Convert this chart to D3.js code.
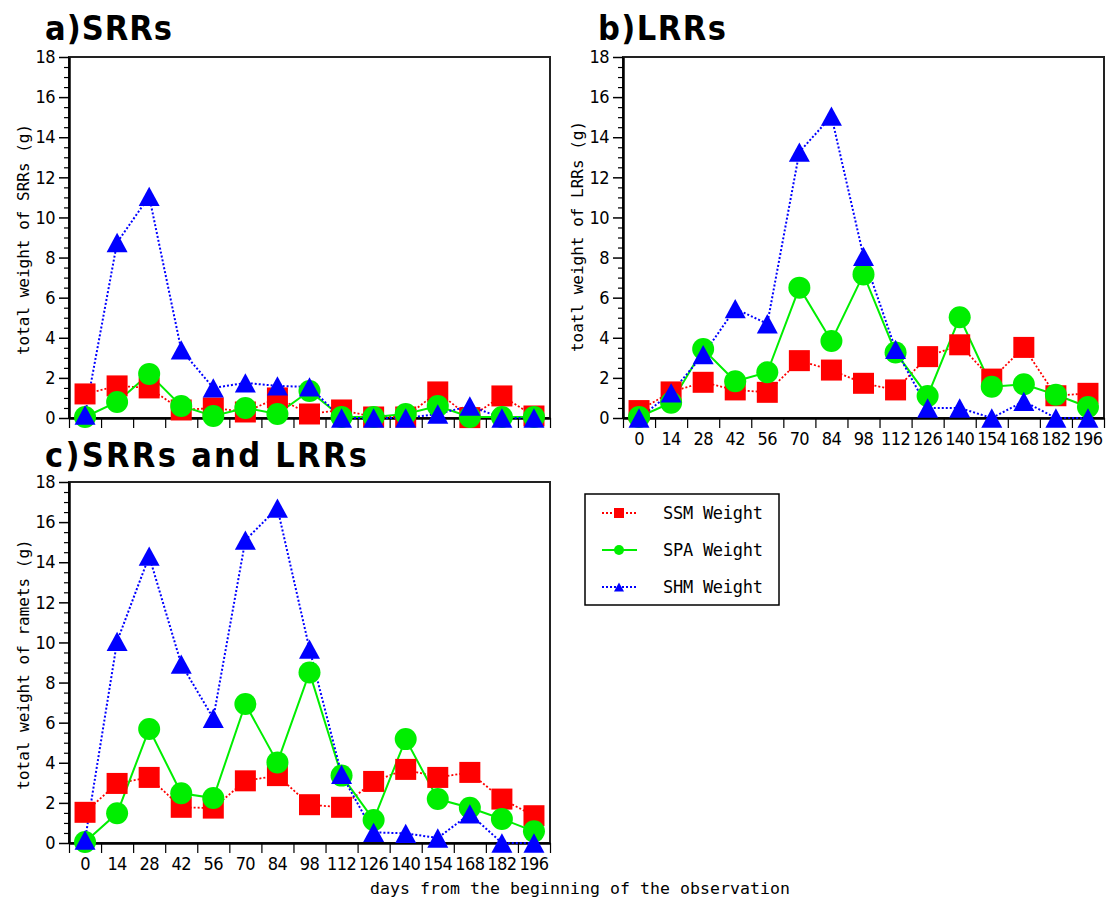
<!DOCTYPE html>
<html>
<head>
<meta charset="utf-8">
<script src="https://cdn.jsdelivr.net/npm/d3@7"></script>
<style>
  body { margin: 0; background: #fff; }
  .tick text { font-family: "Liberation Sans Narrow", "DejaVu Sans Condensed", "Liberation Sans", sans-serif; font-size: 18px; letter-spacing: -0.6px; fill: #000; }
  .mono { font-family: "DejaVu Sans Mono", monospace; fill: #000; }
  .title { font-family: "DejaVu Sans Condensed", "Liberation Sans Narrow", "DejaVu Sans", sans-serif; font-weight: bold; fill: #000; }
</style>
</head>
<body>
<svg width="1107" height="900"></svg>
<script>
var days = [0, 14, 28, 42, 56, 70, 84, 98, 112, 126, 140, 154, 168, 182, 196];
var yTicks = [0, 2, 4, 6, 8, 10, 12, 14, 16, 18];

// a) SRRs
var srrSSM = [1.2, 1.6, 1.5, 0.4, 0.5, 0.3, 1.0, 0.2, 0.4, 0.05, 0.05, 1.3, 0.02, 1.1, 0.1];
var srrSPA = [0.05, 0.8, 2.2, 0.6, 0.1, 0.5, 0.2, 1.35, 0.05, 0.05, 0.2, 0.6, 0.05, 0.05, 0.05];
var srrSHM = [0.15, 8.75, 11.05, 3.4, 1.5, 1.75, 1.6, 1.55, 0, 0, 0, 0.2, 0.6, 0, 0];

// b) LRRs
var lrrSSM = [0.37, 1.3, 1.78, 1.4, 1.28, 2.86, 2.39, 1.73, 1.4, 3.06, 3.65, 1.94, 3.52, 1.11, 1.23];
var lrrSPA = [0.05, 0.76, 3.44, 1.83, 2.28, 6.5, 3.84, 7.16, 3.27, 1.1, 5.02, 1.56, 1.68, 1.16, 0.55];
var lrrSHM = [0, 1.25, 3.16, 5.45, 4.7, 13.26, 15.05, 8.06, 3.42, 0.5, 0.5, 0, 0.83, 0, 0];

// c) SRRs and LRRs
var totSSM = [1.53, 2.97, 3.27, 1.78, 1.74, 3.1, 3.36, 1.91, 1.78, 3.07, 3.67, 3.27, 3.52, 2.19, 1.36];
var totSPA = [0.05, 1.48, 5.68, 2.48, 2.24, 6.93, 4.02, 8.5, 3.36, 1.15, 5.18, 2.19, 1.76, 1.2, 0.58];
var totSHM = [0.15, 10.05, 14.3, 8.92, 6.22, 15.1, 16.7, 9.67, 3.42, 0.53, 0.48, 0.25, 1.45, 0, 0];

var seriesNames = ["SSM Weight", "SPA Weight", "SHM Weight"];

var svg = d3.select("svg");
svg.append("rect").attr("width", 1107).attr("height", 900).attr("fill", "#fff");

var styles = [
  { color: "#ff0000", dash: "2,2", width: 1.8, marker: "square" },
  { color: "#00ee00", dash: null, width: 2, marker: "circle" },
  { color: "#0000ff", dash: "2,2", width: 2, marker: "triangle" }
];

function drawMarker(sel, type, s) {
  if (type == "square") {
    sel.append("rect").attr("x", -s).attr("y", -s).attr("width", 2 * s).attr("height", 2 * s);
  } else if (type == "circle") {
    sel.append("circle").attr("r", s);
  } else {
    sel.append("path").attr("d", "M0," + (-s * 0.92) + "L" + s + "," + (s * 0.92) + "L" + (-s) + "," + (s * 0.92) + "Z");
  }
}

function panel(opt) {
  var x = d3.scaleBand().domain(days).range([opt.left, opt.right]);
  var xEdge = d3.scaleLinear().domain([0, days.length]).range([opt.left, opt.right]);
  var y = d3.scaleLinear().domain([0, 18]).range([opt.bottom, opt.top]);

  var g = svg.append("g");

  g.append("rect")
    .attr("x", opt.left).attr("y", opt.top)
    .attr("width", opt.right - opt.left).attr("height", opt.bottom - opt.top)
    .attr("fill", "none").attr("stroke", "#222").attr("stroke-width", 2);

  // minor y ticks
  g.append("g")
    .attr("transform", "translate(" + opt.left + ",0)")
    .call(d3.axisLeft(y).tickValues(d3.range(0, 18.01, 0.5).filter(function (v) { return v % 2 != 0; }))
      .tickSize(5).tickSizeOuter(0).tickFormat(""))
    .call(function (a) { a.select(".domain").remove(); a.selectAll("line").attr("stroke-width", 1.2); });

  // major y ticks
  g.append("g")
    .attr("transform", "translate(" + opt.left + ",0)")
    .call(d3.axisLeft(y).tickValues(yTicks).tickSize(10).tickSizeOuter(0).tickPadding(4))
    .call(function (a) {
      a.select(".domain").attr("stroke-width", 2.5);
      a.selectAll("line").attr("stroke-width", 1.5);
    });

  // x ticks at band edges
  g.append("g")
    .attr("transform", "translate(0," + opt.bottom + ")")
    .call(d3.axisBottom(xEdge).tickValues(d3.range(0, days.length + 1)).tickSize(10).tickSizeOuter(0).tickFormat(""))
    .call(function (a) {
      a.select(".domain").attr("stroke-width", 2.5);
      a.selectAll("line").attr("stroke-width", 1.2);
    });

  if (opt.labels) {
    g.append("g")
      .attr("transform", "translate(0," + opt.bottom + ")")
      .call(d3.axisBottom(x).tickSize(0).tickPadding(14))
      .call(function (a) { a.select(".domain").remove(); });
  }

  // title
  g.append("text").attr("class", "title")
    .attr("x", opt.titleX).attr("y", opt.titleY)
    .attr("font-size", 34)
    .attr("textLength", opt.titleLen).attr("lengthAdjust", "spacing")
    .text(opt.title);

  // y label
  g.append("text").attr("class", "mono")
    .attr("transform", "translate(" + opt.yLabelX + "," + ((opt.top + opt.bottom) / 2 + opt.yLabelShift) + ") rotate(-90)")
    .attr("text-anchor", "middle").attr("dominant-baseline", "central")
    .attr("font-size", 16)
    .text(opt.yLabel);

  var line = d3.line()
    .x(function (d, i) { return x(days[i]) + x.bandwidth() / 2; })
    .y(function (d) { return y(d); });

  opt.series.forEach(function (vals, k) {
    var st = styles[k];
    g.append("path").datum(vals)
      .attr("d", line).attr("fill", "none")
      .attr("stroke", st.color).attr("stroke-width", st.width)
      .attr("stroke-dasharray", st.dash);
  });
  opt.series.forEach(function (vals, k) {
    var st = styles[k];
    var m = g.append("g").attr("fill", st.color)
      .selectAll("g").data(vals).enter().append("g")
      .attr("transform", function (d, i) { return "translate(" + (x(days[i]) + x.bandwidth() / 2) + "," + y(d) + ")"; });
    m.each(function () { drawMarker(d3.select(this), st.marker, st.marker == "circle" ? 11 : 10.5); });
  });
}

panel({ left: 69, right: 550, top: 57, bottom: 418, labels: false,
  title: "a)SRRs", titleX: 45, titleY: 40, titleLen: 127,
  yLabel: "total weight of SRRs (g)", yLabelX: 23, yLabelShift: 2,
  series: [srrSSM, srrSPA, srrSHM] });

panel({ left: 623, right: 1104, top: 57, bottom: 418, labels: true,
  title: "b)LRRs", titleX: 598, titleY: 40, titleLen: 128,
  yLabel: "toatl weight of LRRs (g)", yLabelX: 577, yLabelShift: -1,
  series: [lrrSSM, lrrSPA, lrrSHM] });

panel({ left: 69, right: 550, top: 482, bottom: 843, labels: true,
  title: "c)SRRs and LRRs", titleX: 45, titleY: 467, titleLen: 322,
  yLabel: "total weight of ramets (g)", yLabelX: 23, yLabelShift: 2,
  series: [totSSM, totSPA, totSHM] });

svg.append("text").attr("class", "mono")
  .attr("x", 370).attr("y", 894).attr("font-size", 16.5)
  .attr("textLength", 420).attr("lengthAdjust", "spacing")
  .text("days from the beginning of the observation");

// legend
var leg = svg.append("g");
leg.append("rect").attr("x", 585).attr("y", 494).attr("width", 194).attr("height", 111)
  .attr("fill", "#fff").attr("stroke", "#000").attr("stroke-width", 1.5);
var legY = d3.scalePoint().domain(seriesNames).range([513, 587]);
seriesNames.forEach(function (name, k) {
  var st = styles[k];
  var yy = legY(name);
  leg.append("line").attr("x1", 602).attr("x2", 637).attr("y1", yy).attr("y2", yy)
    .attr("stroke", st.color).attr("stroke-width", st.width).attr("stroke-dasharray", st.dash);
  var m = leg.append("g").attr("fill", st.color).attr("transform", "translate(619," + yy + ")");
  drawMarker(m, st.marker, 5);
  leg.append("text").attr("class", "mono")
    .attr("x", 663).attr("y", yy).attr("dominant-baseline", "central")
    .attr("font-size", 17).attr("textLength", 100).attr("lengthAdjust", "spacing")
    .text(name);
});
</script>
</body>
</html>
